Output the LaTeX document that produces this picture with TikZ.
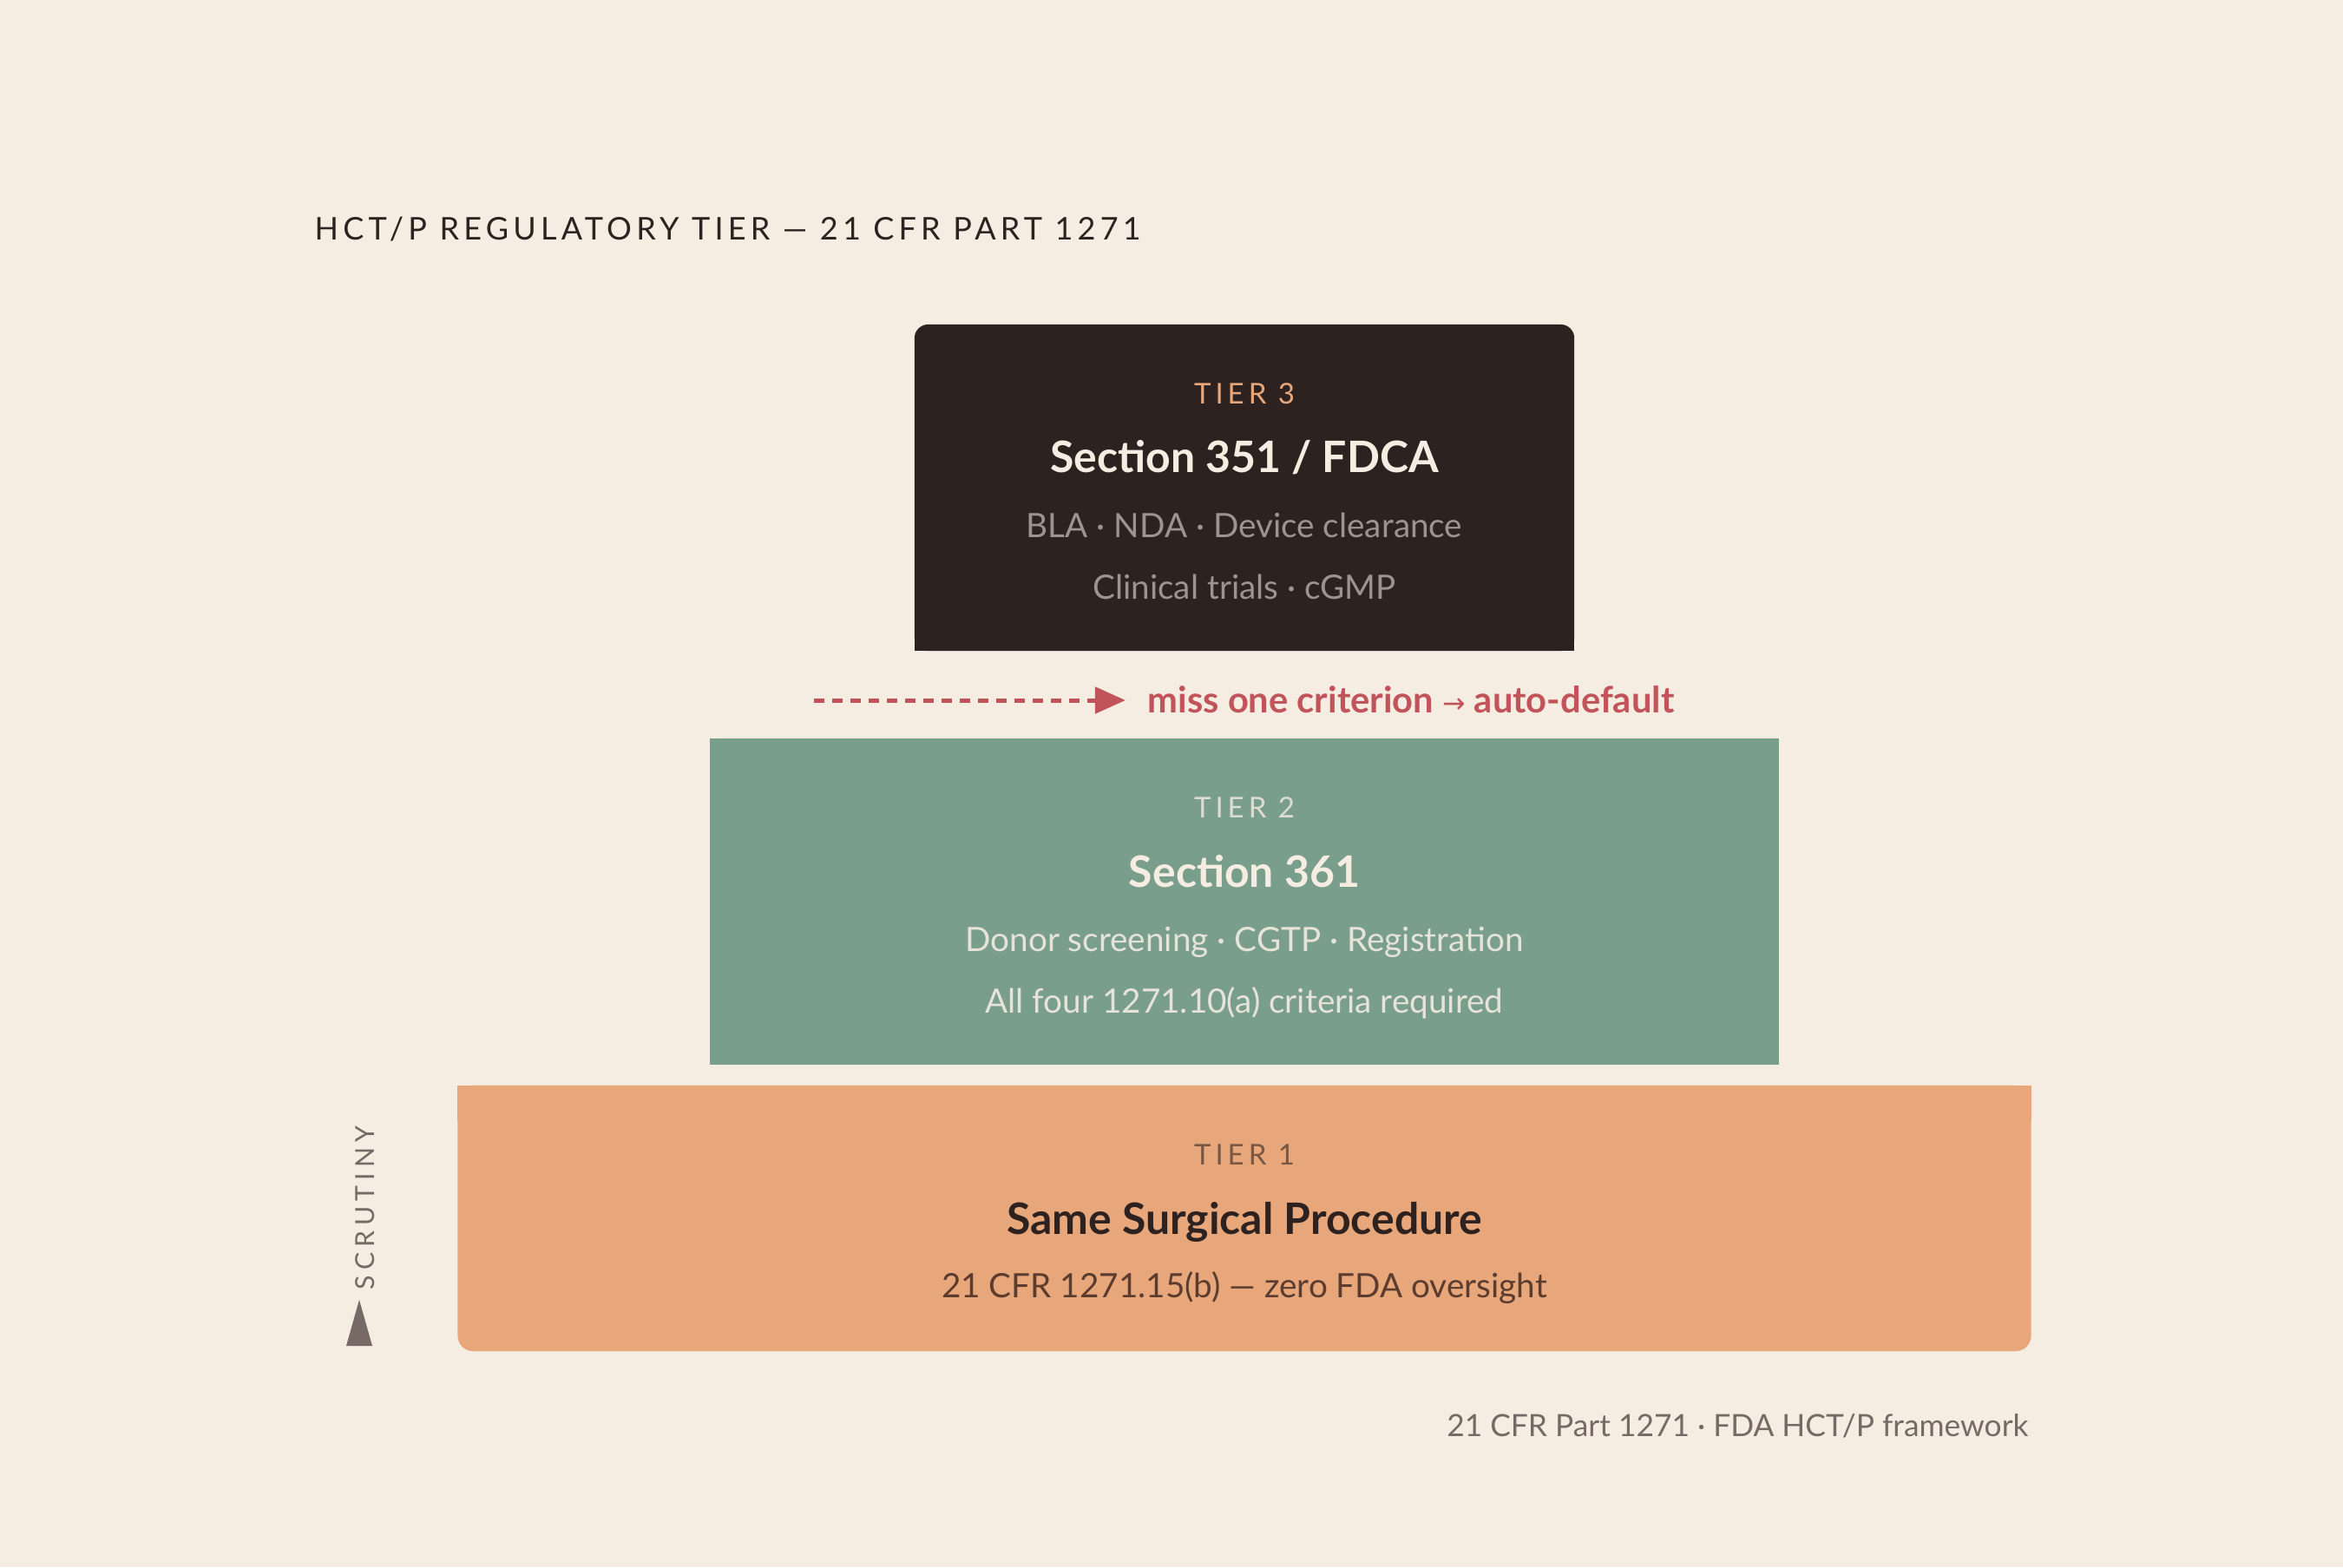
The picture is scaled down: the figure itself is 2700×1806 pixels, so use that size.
\documentclass[tikz,border=0pt]{standalone}
\usepackage{fontspec}
\setmainfont{Lato}
\newfontfamily\trackfont[LetterSpace=15]{Lato}
\newfontfamily\titlefont[LetterSpace=14.5]{Lato}
\newfontfamily\vertfont[LetterSpace=20]{Lato}
\newfontfamily\symfont{DejaVu Sans}
\usepackage{xcolor}
\usepackage{tikz}
\usetikzlibrary{positioning,arrows.meta}

\definecolor{paper}{HTML}{F5ECE2}
\definecolor{ink}{HTML}{2E2220}
\definecolor{sage}{HTML}{7A9E8C}
\definecolor{peach}{HTML}{E8A77B}
\definecolor{bark}{HTML}{5C3C2E}
\definecolor{alert}{HTML}{C0545A}
\definecolor{mute}{HTML}{776A66}

\begin{document}
\begin{tikzpicture}
[x=0.01cm,y=-0.01cm]
\tikzset{
	tierbox/.style = {rectangle, inner sep=0, outer sep=0, minimum height=3.76cm},
	lbl/.style = {anchor=base, inner sep=0, font=\trackfont\fontsize{9.39pt}{11pt}\selectfont},
	head/.style = {anchor=base, inner sep=0, font=\bfseries\fontsize{14.2pt}{17pt}\selectfont},
	sub/.style = {anchor=base, inner sep=0, font=\fontsize{11pt}{13pt}\selectfont},
	missarrow/.style = {alert, line width=1.42pt, dash pattern=on 0.12cm off 0.09cm, -{Triangle[length=0.35cm,width=0.3cm]}}
}

\fill[paper] (0,0) rectangle (2700,1806);
\useasboundingbox (0,0) rectangle (2700,1806);

\node (title) [anchor=base west, inner sep=0, text=ink, font=\titlefont\fontsize{10.24pt}{12pt}\selectfont] at (362,276) {HCT/P REGULATORY TIER — 21 CFR PART 1271};

% tier 3
\node (t3) [tierbox, fill=ink, minimum width=7.6cm, rounded corners=4.5pt] at (1434,562) {};
\fill[ink] (t3.south west) rectangle ([yshift=0.4cm]t3.south east);
\node (t3l) [lbl, text=peach] at ([yshift=-0.92cm]t3.north) {TIER 3};
\node (t3h) [head, text=paper] at ([yshift=-1.71cm]t3.north) {Section 351 / FDCA};
\node (t3a) [sub, text=ink!40!paper!75!gray] at ([yshift=-2.45cm]t3.north) {BLA · NDA · Device clearance};
\node (t3b) [sub, text=ink!40!paper!75!gray] at ([yshift=-3.16cm]t3.north) {Clinical trials · cGMP};

% tier 2
\node (t2) [tierbox, fill=sage, minimum width=12.32cm] at (1434,1039) {};
\node (t2l) [lbl, text=paper!80!sage] at ([yshift=-0.92cm]t2.north) {TIER 2};
\node (t2h) [head, text=paper] at ([yshift=-1.71cm]t2.north) {Section 361};
\node (t2a) [sub, text=paper!88!sage] at ([yshift=-2.45cm]t2.north) {Donor screening · CGTP · Registration};
\node (t2b) [sub, text=paper!88!sage] at ([yshift=-3.16cm]t2.north) {All four 1271.10(a) criteria required};

% tier 1
\node (t1) [tierbox, fill=peach, minimum width=18.12cm, minimum height=3.06cm, rounded corners=5pt] at (1434,1404) {};
\fill[peach] (t1.north west) rectangle ([yshift=-0.4cm]t1.north east);
\node (t1l) [lbl, text=ink!60!peach] at ([yshift=-0.92cm]t1.north) {TIER 1};
\node (t1h) [head, text=ink] at ([yshift=-1.71cm]t1.north) {Same Surgical Procedure};
\node (t1a) [sub, text=bark] at ([yshift=-2.44cm]t1.north) {21 CFR 1271.15(b) — zero FDA oversight};

% default arrow
\coordinate (missfrom) at (938,807);
\node (miss) [anchor=base west, inner sep=0, text=alert, font=\bfseries\fontsize{11.85pt}{14pt}\selectfont] at (1322,821) {miss one criterion {\symfont\mdseries\fontsize{9pt}{10pt}\selectfont →} auto-default};
\draw[missarrow] (missfrom) -- (missfrom -| miss.west) [shorten >=0.25cm];

% scrutiny
\node (scrutiny) [rotate=90, inner sep=0, text=mute, font=\vertfont\fontsize{8.6pt}{10pt}\selectfont] at (421,1392) {SCRUTINY};
\fill[mute] (399,1551) -- (414,1498) -- (429,1551) -- cycle;

\node (foot) [anchor=base east, inner sep=0, text=mute, font=\fontsize{10.05pt}{12pt}\selectfont] at (2338,1655) {21 CFR Part 1271 · FDA HCT/P framework};
\end{tikzpicture}
\end{document}
